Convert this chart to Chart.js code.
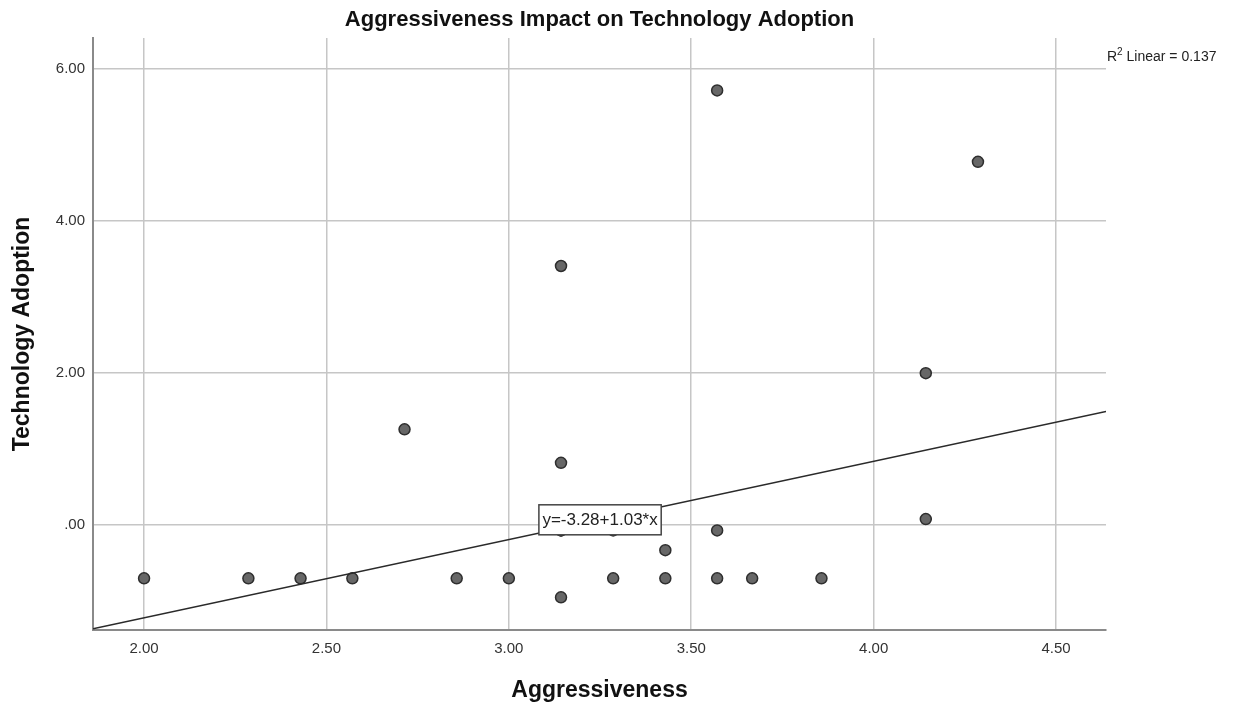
<!DOCTYPE html>
<html>
<head>
<meta charset="utf-8">
<script src="https://cdn.jsdelivr.net/npm/chart.js@4/dist/chart.umd.min.js"></script>
<style>
  html, body { margin: 0; padding: 0; background: #fff; }
  #wrap { width: 1239px; height: 705px; }
</style>
</head>
<body>
<div id="wrap"><canvas id="chart"></canvas></div>
<script>
// observed cases (Aggressiveness, Technology Adoption)
const aggressiveness = [2.00, 2.286, 2.429, 2.571, 2.714, 2.857, 3.00, 3.143, 3.143, 3.143, 3.143, 3.143,
  3.286, 3.286, 3.429, 3.429, 3.571, 3.571, 3.571, 3.667, 3.857, 4.143, 4.143, 4.286];
const techAdoption = [-0.70, -0.70, -0.70, -0.70, 1.26, -0.70, -0.70, 3.41, 0.82, -0.07, -0.95, -0.07,
  -0.07, -0.70, -0.33, -0.70, 5.72, -0.07, -0.70, -0.70, -0.70, 2.00, 0.08, 4.78];

// fit line
const intercept = -3.28;
const slope = 1.03;
const rSquared = 0.137;

const xTicks = [2.00, 2.50, 3.00, 3.50, 4.00, 4.50];
const yTicks = [0, 2, 4, 6];
const xMin = 1.86, xMax = 4.637;
const yMin = -1.38, yMax = 6.41;

const chartTitle = 'Aggressiveness Impact on Technology Adoption';
const FONT = '"Liberation Sans", Arial, sans-serif';

const points = aggressiveness.map((x, i) => ({ x: x, y: techAdoption[i] }));
const fitLine = [
  { x: xMin, y: intercept + slope * xMin },
  { x: xMax, y: intercept + slope * xMax }
];

const labelsPlugin = {
  id: 'spssLabels',
  afterDatasetsDraw(chart) {
    const c = chart.ctx;
    const xs = chart.scales.x, ys = chart.scales.y;
    const area = chart.chartArea;
    c.save();

    // title, centred over the plot area
    c.font = 'bold 22px ' + FONT;
    c.fillStyle = '#111';
    c.textAlign = 'center';
    c.textBaseline = 'middle';
    c.fillText(chartTitle, (area.left + area.right) / 2, 20);

    // equation box
    const eq = 'y=' + intercept.toFixed(2) + '+' + slope.toFixed(2) + '*x';
    c.font = '17px ' + FONT;
    const w = c.measureText(eq).width + 7;
    const h = 30;
    const cx = xs.getPixelForValue(3.25);
    const cy = ys.getPixelForValue(0.07);
    c.fillStyle = '#fff';
    c.fillRect(cx - w / 2, cy - h / 2, w, h);
    c.strokeStyle = '#444';
    c.lineWidth = 1.5;
    c.strokeRect(cx - w / 2, cy - h / 2, w, h);
    c.fillStyle = '#222';
    c.fillText(eq, cx, cy + 1);

    // R squared
    c.textAlign = 'left';
    c.textBaseline = 'alphabetic';
    const rx = area.right + 1;
    const ry = 61;
    c.font = '14px ' + FONT;
    c.fillText('R', rx, ry);
    const rw = c.measureText('R').width;
    c.font = '10px ' + FONT;
    c.fillText('2', rx + rw, ry - 6);
    const sw = c.measureText('2').width;
    c.font = '14px ' + FONT;
    c.fillText(' Linear = ' + rSquared.toFixed(3), rx + rw + sw, ry);
    c.restore();
  }
};

new Chart(document.getElementById('chart'), {
  type: 'scatter',
  data: {
    datasets: [
      {
        label: 'Fit',
        type: 'line',
        data: fitLine,
        borderColor: '#2a2a2a',
        borderWidth: 1.5,
        pointRadius: 0,
        fill: false,
        order: 1
      },
      {
        label: 'Cases',
        data: points,
        backgroundColor: '#676767',
        borderColor: '#2e2e2e',
        borderWidth: 1.5,
        pointRadius: 5.5,
        order: 2
      }
    ]
  },
  options: {
    responsive: true,
    maintainAspectRatio: false,
    animation: false,
    layout: { padding: { left: 0, right: 133, top: 38, bottom: 0 } },
    plugins: {
      legend: { display: false },
      tooltip: { enabled: false },
      title: { display: false }
    },
    scales: {
      x: {
        type: 'linear',
        min: xMin,
        max: xMax,
        afterBuildTicks: (s) => { s.ticks = xTicks.map(v => ({ value: v })); },
        afterFit: (s) => { s.height = 75; },
        grid: { color: '#c6c6c6', lineWidth: 1.5, drawTicks: false },
        border: { color: '#8a8a8a', width: 2 },
        ticks: {
          padding: 10,
          color: '#333',
          font: { family: FONT, size: 15 },
          callback: (v) => v.toFixed(2)
        },
        title: {
          display: true,
          text: 'Aggressiveness',
          color: '#111',
          font: { family: FONT, size: 23, weight: 'bold' },
          padding: { top: 0, bottom: 1 }
        }
      },
      y: {
        type: 'linear',
        min: yMin,
        max: yMax,
        afterBuildTicks: (s) => { s.ticks = yTicks.map(v => ({ value: v })); },
        afterFit: (s) => { s.width = 93; },
        grid: { color: '#c6c6c6', lineWidth: 1.5, drawTicks: false },
        border: { color: '#8a8a8a', width: 2 },
        ticks: {
          padding: 8,
          color: '#333',
          font: { family: FONT, size: 15 },
          callback: (v) => v.toFixed(2).replace(/^0\./, '.')
        },
        title: {
          display: true,
          text: 'Technology Adoption',
          color: '#111',
          font: { family: FONT, size: 23, weight: 'bold' },
          padding: { top: 9, bottom: 0 }
        }
      }
    }
  },
  plugins: [labelsPlugin]
});
</script>
</body>
</html>
